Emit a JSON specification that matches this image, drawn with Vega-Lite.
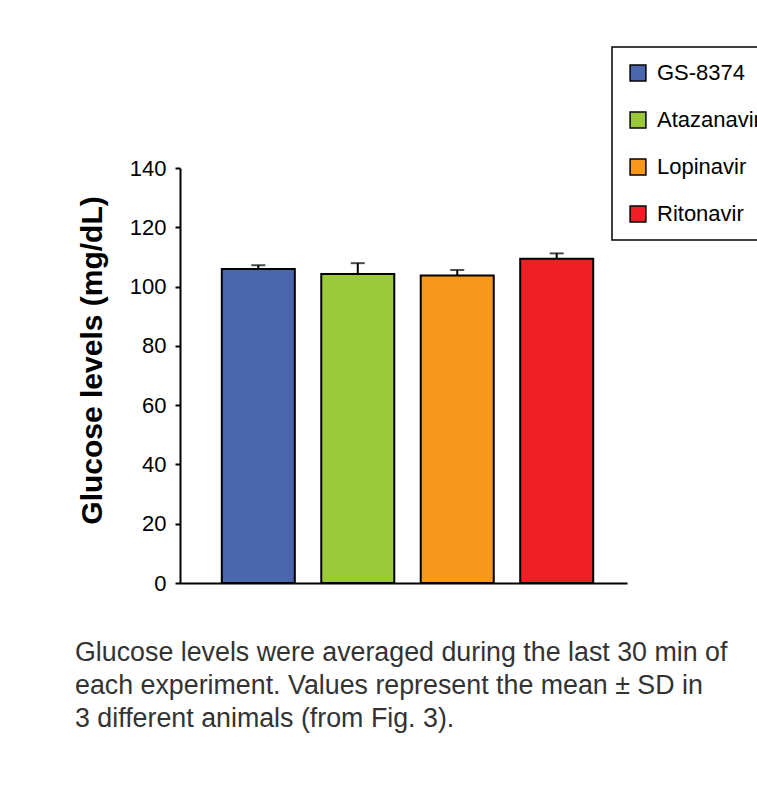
{
  "$schema": "https://vega.github.io/schema/vega-lite/v6.json",
  "width": 447,
  "height": 415,
  "autosize": "none",
  "padding": {"left": 180, "top": 168, "right": 130, "bottom": 208},
  "background": "white",
  "config": {"view": {"stroke": null}, "font": "Liberation Sans"},
  "data": {
    "values": [
      {"drug": "GS-8374", "mean": 105.9, "upper": 107.2},
      {"drug": "Atazanavir", "mean": 104.2, "upper": 107.9},
      {"drug": "Lopinavir", "mean": 103.7, "upper": 105.6},
      {"drug": "Ritonavir", "mean": 109.4, "upper": 111.2}
    ]
  },
  "title": {
    "text": [
      "Glucose levels were averaged during the last 30 min of",
      "each experiment. Values represent the mean ± SD in",
      "3 different animals (from Fig. 3)."
    ],
    "orient": "bottom",
    "anchor": "start",
    "frame": "group",
    "dx": -105,
    "offset": 46,
    "fontSize": 26.8,
    "fontWeight": "normal",
    "font": "Liberation Sans",
    "color": "#333333",
    "lineHeight": 33
  },
  "encoding": {
    "x": {
      "field": "drug",
      "type": "nominal",
      "sort": null,
      "scale": {"paddingInner": 0.266, "paddingOuter": 0.38, "align": 0.553},
      "axis": {
        "title": null,
        "labels": false,
        "ticks": false,
        "domainColor": "black",
        "domainWidth": 2
      }
    }
  },
  "layer": [
    {
      "mark": {"type": "bar", "stroke": "black", "strokeWidth": 2},
      "encoding": {
        "y": {
          "field": "mean",
          "type": "quantitative",
          "scale": {"domain": [0, 140]},
          "axis": {
            "values": [0, 20, 40, 60, 80, 100, 120, 140],
            "grid": false,
            "tickSize": 5,
            "tickWidth": 2,
            "tickColor": "black",
            "domainColor": "black",
            "domainWidth": 2,
            "labelFontSize": 22,
            "labelColor": "black",
            "labelPadding": 9,
            "title": "Glucose levels (mg/dL)",
            "titleFontSize": 30,
            "titleFontWeight": "bold",
            "titleColor": "black",
            "titlePadding": 22,
            "titleY": 192
          }
        },
        "color": {
          "field": "drug",
          "type": "nominal",
          "sort": null,
          "scale": {
            "domain": ["GS-8374", "Atazanavir", "Lopinavir", "Ritonavir"],
            "range": ["#4A67AE", "#9BC93C", "#F7981D", "#EE2026"]
          },
          "legend": {
            "orient": "none",
            "legendX": 432,
            "legendY": -121,
            "title": null,
            "strokeColor": "black",
            "fillColor": "white",
            "padding": 15,
            "rowPadding": 25,
            "symbolType": "square",
            "symbolSize": 250,
            "symbolStrokeColor": "black",
            "symbolStrokeWidth": 1.5,
            "symbolOpacity": 1,
            "labelFontSize": 22,
            "labelColor": "black",
            "labelOffset": 8,
            "labelLimit": 300,
            "encode": {"legend": {"update": {"strokeWidth": {"value": 1.5}}}}
          }
        }
      }
    },
    {
      "mark": {"type": "rule", "color": "black", "strokeWidth": 2},
      "encoding": {
        "y": {"field": "mean", "type": "quantitative"},
        "y2": {"field": "upper"}
      }
    },
    {
      "mark": {"type": "tick", "color": "black", "thickness": 2, "size": 14, "orient": "horizontal"},
      "encoding": {
        "y": {"field": "upper", "type": "quantitative"}
      }
    }
  ]
}
